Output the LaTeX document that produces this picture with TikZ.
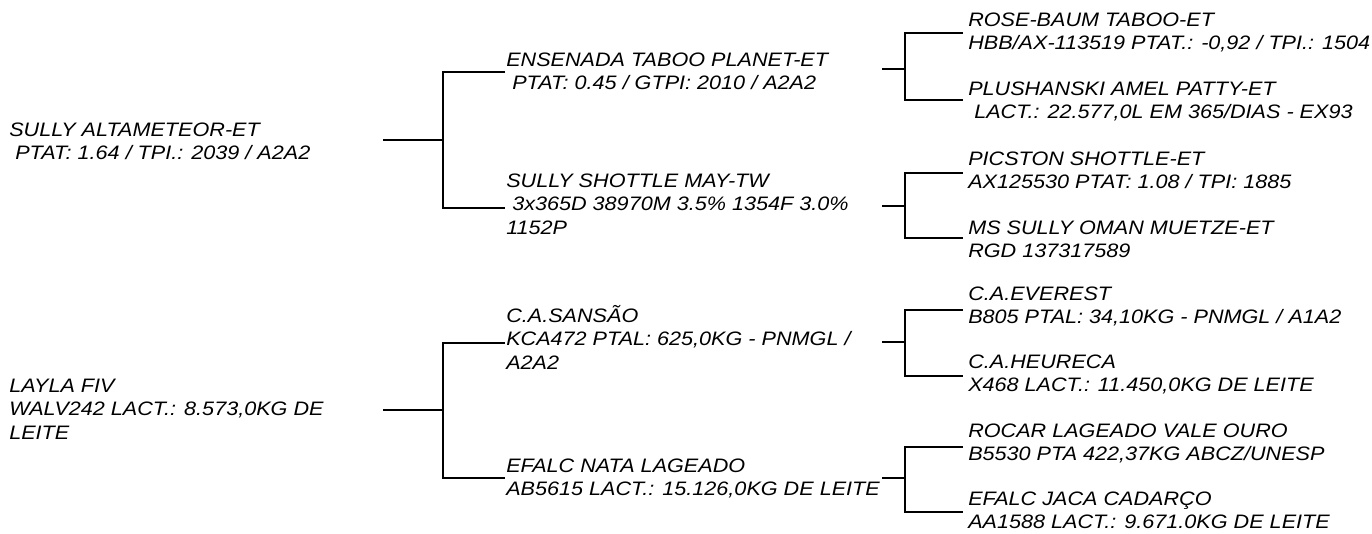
\documentclass[tikz,border=0pt]{standalone}
\usepackage{fontspec}
\setmainfont{Liberation Sans}[FakeStretch=1.11]
\newcommand{\fstrut}{\rule{0pt}{15pt}}
\begin{document}
\begin{tikzpicture}[x=0.75pt,y=-0.75pt,
  ln/.style={line width=1.9pt},
  lbl/.style={anchor=north west, inner sep=0pt, align=left,
    font=\fontsize{14.6}{17.6}\selectfont\itshape}]
\useasboundingbox (0,0) rectangle (1372,534);
% generation 0
\node[lbl] (r1) at (9,116) {\fstrut SULLY ALTAMETEOR-ET\\\ PTAT: 1.64 / TPI.: 2039 / A2A2};
\node[lbl] (r2) at (9,372) {\fstrut LAYLA FIV\\WALV242 LACT.: 8.573,0KG DE\\LEITE};
% generation 1
\node[lbl] (p1) at (506,46) {\fstrut ENSENADA TABOO PLANET-ET\\\ PTAT: 0.45 / GTPI: 2010 / A2A2};
\node[lbl] (p2) at (506,167) {\fstrut SULLY SHOTTLE MAY-TW\\\ 3x365D 38970M 3.5\% 1354F 3.0\%\\1152P};
\node[lbl] (p3) at (506,302) {\fstrut C.A.SANSÃO\\KCA472 PTAL: 625,0KG - PNMGL /\\A2A2};
\node[lbl] (p4) at (506,452) {\fstrut EFALC NATA LAGEADO\\AB5615 LACT.: 15.126,0KG DE LEITE};
% generation 2
\node[lbl] (g1) at (968,6) {\fstrut ROSE-BAUM TABOO-ET\\HBB/AX-113519 PTAT.: -0,92 / TPI.: 1504};
\node[lbl] (g2) at (968,75) {\fstrut PLUSHANSKI AMEL PATTY-ET\\\ LACT.: 22.577,0L EM 365/DIAS - EX93};
\node[lbl] (g3) at (968,145) {\fstrut PICSTON SHOTTLE-ET\\AX125530 PTAT: 1.08 / TPI: 1885};
\node[lbl] (g4) at (968,214) {\fstrut MS SULLY OMAN MUETZE-ET\\RGD 137317589};
\node[lbl] (g5) at (968,280) {\fstrut C.A.EVEREST\\B805 PTAL: 34,10KG - PNMGL / A1A2};
\node[lbl] (g6) at (968,348) {\fstrut C.A.HEURECA\\X468 LACT.: 11.450,0KG DE LEITE};
\node[lbl] (g7) at (968,417) {\fstrut ROCAR LAGEADO VALE OURO\\B5530 PTA 422,37KG ABCZ/UNESP};
\node[lbl] (g8) at (968,485) {\fstrut EFALC JACA CADARÇO\\AA1588 LACT.: 9.671.0KG DE LEITE};
% bracket coordinates
\coordinate (s1) at (383,140); \coordinate (j1) at (443,140);
\coordinate (s2) at (383,410); \coordinate (j2) at (443,410);
\coordinate (p1w) at (505,72);  \coordinate (p2w) at (505,208);
\coordinate (p3w) at (505,343); \coordinate (p4w) at (505,478);
\coordinate (t1) at (882,69);  \coordinate (k1) at (905,69);
\coordinate (t2) at (882,206); \coordinate (k2) at (905,206);
\coordinate (t3) at (882,342); \coordinate (k3) at (905,342);
\coordinate (t4) at (882,478); \coordinate (k4) at (905,478);
\coordinate (g1w) at (963,33);  \coordinate (g2w) at (963,100);
\coordinate (g3w) at (963,173); \coordinate (g4w) at (963,238);
\coordinate (g5w) at (963,310); \coordinate (g6w) at (963,376);
\coordinate (g7w) at (963,447); \coordinate (g8w) at (963,512);
% connectors
\draw[ln] (s1) -- (j1);
\draw[ln] (p1w) -| (j1) |- (p2w);
\draw[ln] (s2) -- (j2);
\draw[ln] (p3w) -| (j2) |- (p4w);
\draw[ln] (t1) -- (k1);
\draw[ln] (g1w) -| (k1) |- (g2w);
\draw[ln] (t2) -- (k2);
\draw[ln] (g3w) -| (k2) |- (g4w);
\draw[ln] (t3) -- (k3);
\draw[ln] (g5w) -| (k3) |- (g6w);
\draw[ln] (t4) -- (k4);
\draw[ln] (g7w) -| (k4) |- (g8w);
\end{tikzpicture}
\end{document}
